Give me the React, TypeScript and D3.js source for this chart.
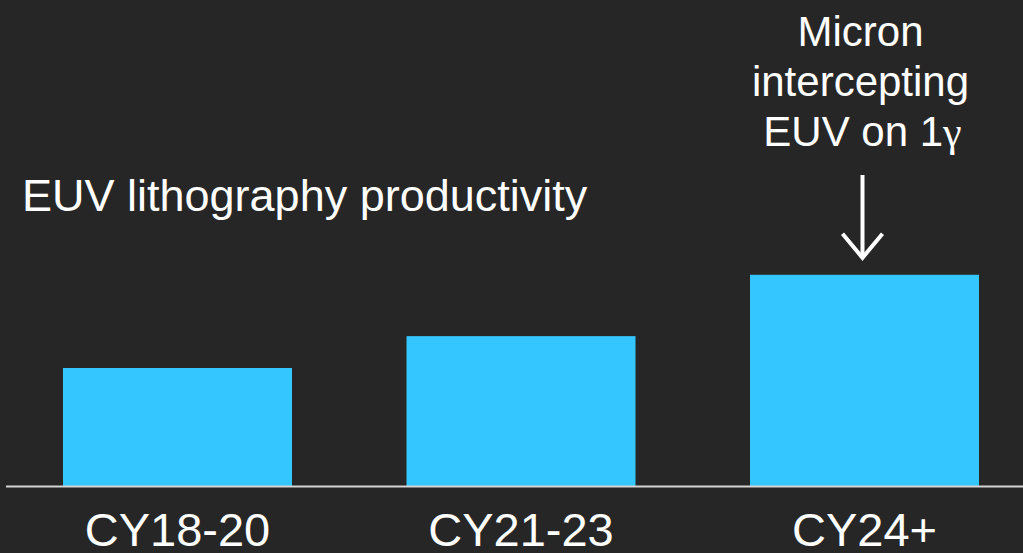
import React from "react";
import * as d3 from "d3";

const categories: string[] = ["CY18-20", "CY21-23", "CY24+"];
// Relative EUV lithography productivity (indexed, CY18-20 = 1.00)
const productivity: number[] = [1.0, 1.27, 1.79];
const title = "EUV lithography productivity";
const calloutLines: string[] = ["Micron", "intercepting", "EUV on 1"];
const calloutSymbol = "γ";

const W = 1023;
const H = 553;
const baseY = 486;

export default function App() {
  const x = d3
    .scaleBand<string>()
    .domain(categories)
    .range([63, 979])
    .paddingInner(1 / 3)
    .paddingOuter(0);

  const y = d3.scaleLinear().domain([0, 1]).range([baseY, baseY - 118]);

  const last = categories[categories.length - 1];
  const cx = (x(last) ?? 0) + x.bandwidth() / 2;
  const lastTop = y(productivity[productivity.length - 1]);
  const textCx = cx - 4;

  const font = "'Liberation Sans', Arial, Helvetica, sans-serif";

  return (
    <div style={{ position: "fixed", left: 0, top: 0 }}>
      <svg width={W} height={H} style={{ display: "block" }}>
        <rect x={0} y={0} width={W} height={H} fill="#262626" />
        {categories.map((c, i) => (
          <rect
            key={c}
            x={x(c)}
            y={y(productivity[i])}
            width={x.bandwidth()}
            height={baseY - y(productivity[i])}
            fill="#33c6ff"
          />
        ))}
        <line x1={6} x2={W} y1={baseY + 0.5} y2={baseY + 0.5} stroke="#d4d4d4" strokeWidth={2} />
        {categories.map((c) => (
          <text
            key={c}
            x={(x(c) ?? 0) + x.bandwidth() / 2}
            y={546}
            textAnchor="middle"
            fill="#ffffff"
            fontFamily={font}
            fontSize={47}
          >
            {c}
          </text>
        ))}
        <text x={22} y={211} fill="#ffffff" fontFamily={font} fontSize={45}>
          {title}
        </text>
        <g fill="#ffffff" fontFamily={font} fontSize={42} textAnchor="middle">
          {calloutLines.map((t, i) => (
            <text key={i} x={textCx + (i === calloutLines.length - 1 ? 2 : 0)} y={46 + i * 50}>
              {t}
              {i === calloutLines.length - 1 && (
                <tspan fontFamily="'Liberation Serif', 'Times New Roman', serif">{calloutSymbol}</tspan>
              )}
            </text>
          ))}
        </g>
        <g stroke="#ffffff" strokeWidth={4} fill="none" strokeLinecap="butt">
          <line x1={cx - 2} x2={cx - 2} y1={175} y2={lastTop - 17} />
          <polyline
            points={`${cx - 22},${lastTop - 41} ${cx - 2},${lastTop - 17} ${cx + 18},${lastTop - 41}`}
            strokeLinejoin="miter"
          />
        </g>
      </svg>
    </div>
  );
}
